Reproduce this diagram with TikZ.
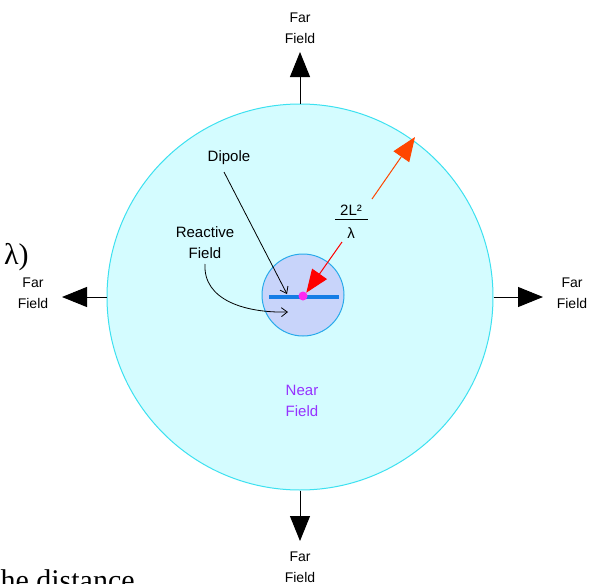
\documentclass[tikz,border=0pt]{standalone}
\usepackage{fontspec}
\setmainfont{Liberation Sans}
\newfontfamily\serifface{Liberation Serif}
\usetikzlibrary{arrows.meta}
\definecolor{nearfill}{RGB}{212,252,255}
\definecolor{nearedge}{RGB}{60,225,240}
\definecolor{reactfill}{RGB}{200,212,250}
\definecolor{reactedge}{RGB}{40,170,235}
\definecolor{dipblue}{RGB}{20,125,230}
\definecolor{orangered}{RGB}{255,70,0}
\definecolor{nearlabel}{RGB}{150,50,255}
\definecolor{feedcol}{RGB}{255,40,240}
\tikzset{
  lbl/.style={font=\fontsize{15}{21}\selectfont, align=center, inner sep=0pt},
  farlbl/.style={font=\fontsize{14}{21}\selectfont, align=center, inner sep=0pt},
  fararrow/.style={draw=black, line width=1pt, -{Triangle[length=25pt,width=20pt]}},
  pointer/.style={draw=black, line width=0.8pt, -{Straight Barb[length=6pt,width=9pt]}},
  bigserif/.style={font=\serifface\fontsize{30}{30}\selectfont, inner sep=0pt}
}
\begin{document}
\begin{tikzpicture}[x=1pt,y=-1pt]
\useasboundingbox[fill=white] (0,0) rectangle (590,584);
% near field circle
\node[circle, draw=nearedge, fill=nearfill, line width=1pt, minimum size=386pt, inner sep=0pt] (near) at (300,297) {};
% reactive field circle
\node[circle, draw=reactedge, fill=reactfill, line width=1pt, minimum size=82pt, inner sep=0pt] (react) at (303,295) {};
% dipole
\coordinate (dipL) at (269,297);
\coordinate (dipR) at (339,297);
\draw[dipblue, line width=3.5pt] (dipL) -- (dipR);
\node[circle, fill=feedcol, minimum size=9pt, inner sep=0pt] (feed) at (303,296) {};
% far field arrows
\coordinate (ftop) at (300,52);
\coordinate (fbot) at (300,541);
\coordinate (fleft) at (62,297);
\coordinate (fright) at (543,297);
\draw[fararrow] (near.north) -- (ftop);
\draw[fararrow] (near.south) -- (fbot);
\draw[fararrow] (near.west) -- (fleft);
\draw[fararrow] (near.east) -- (fright);
\node[farlbl] (ttop) at (300,28) {Far\\Field};
\node[farlbl] (tbot) at (300,567) {Far\\Field};
\node[farlbl] (tleft) at (33,293) {Far\\Field};
\node[farlbl] (tright) at (572,293) {Far\\Field};
% labels
\node[lbl] (dipole) at (229,158) {Dipole};
\node[lbl] (reactive) at (205,243) {Reactive\\Field};
\node[lbl, text=nearlabel] (nearlbl) at (302,401) {Near\\Field};
% pointers
\coordinate (dtip) at (287,294);
\draw[pointer] (224,172) -- (dtip);
\coordinate (rtip) at (288,312);
\draw[pointer] (205,264) .. controls (203,300) and (245,313) .. (rtip);
% fraction
\node[inner sep=0pt, font=\fontsize{15}{15}\selectfont] (num) at (351,210) {2L²};
\node[inner sep=0pt, font=\fontsize{15}{15}\selectfont] (den) at (351,233) {λ};
\coordinate (barL) at (335,219.5);
\coordinate (barR) at (368,219.5);
\draw[line width=0.9pt] (barL) -- (barR);
% radius arrows
\coordinate (redstart) at (342,242);
\draw[red, line width=1pt, -{Triangle[length=23pt,width=18pt]}] (redstart) -- (feed.north east);
\coordinate (orstart) at (372,199);
\coordinate (ortip) at (415,137);
\draw[orangered, line width=1pt, -{Triangle[length=24pt,width=19pt]}] (orstart) -- (ortip);
% fragments of surrounding text
\node[bigserif, anchor=base west] (lam) at (4,264) {λ)};
\node[bigserif, anchor=base west] (dist) at (-8,590) {the distance};
\end{tikzpicture}
\end{document}
